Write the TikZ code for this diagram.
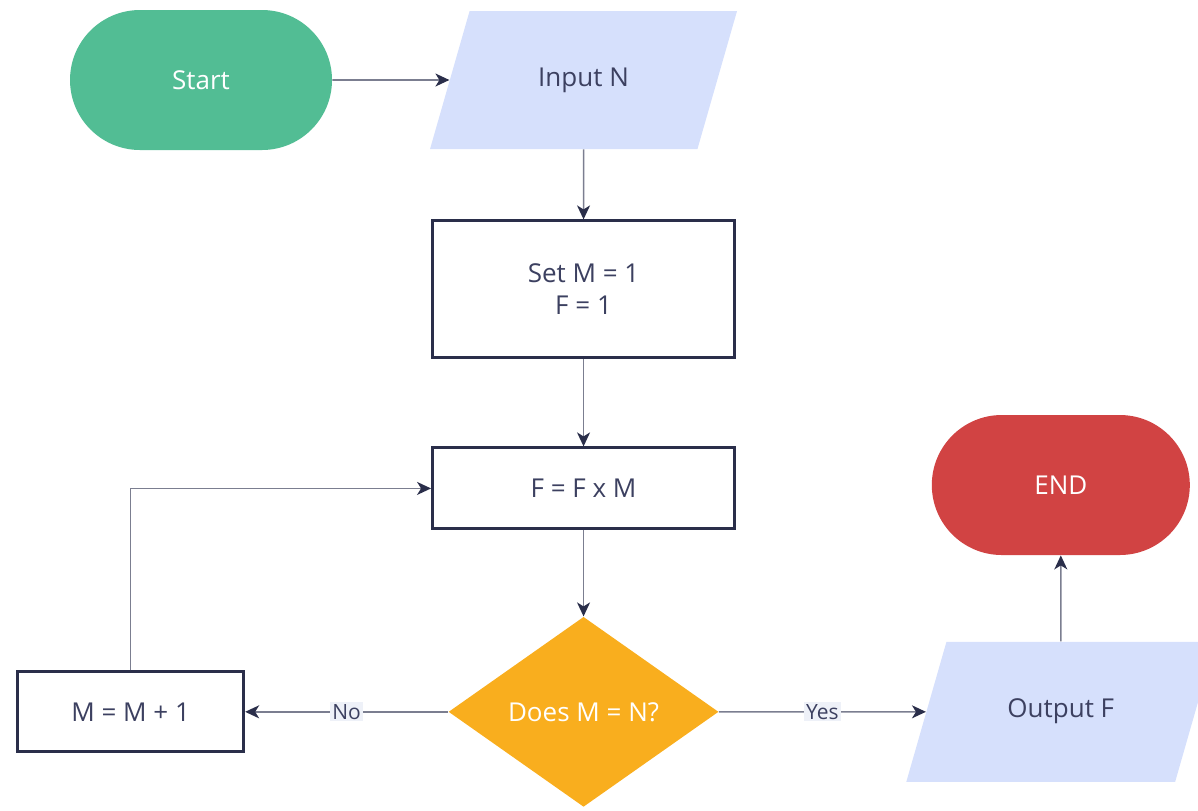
\documentclass[tikz,border=0pt]{standalone}
\usepackage{fontspec}
\setmainfont{Open Sans}
\usepackage{tikz}
\usetikzlibrary{shapes.geometric}
\usetikzlibrary{arrows.meta}
\usetikzlibrary{positioning}

\definecolor{startgreen}{HTML}{52BD94}
\definecolor{ioblue}{HTML}{D6E0FC}
\definecolor{endred}{HTML}{D14343}
\definecolor{askorange}{HTML}{F9AE1E}
\definecolor{navy}{HTML}{2A2E4A}
\definecolor{ink}{HTML}{3C4060}
\definecolor{wire}{HTML}{7B7E90}
\definecolor{tagbg}{HTML}{EEF1F8}

\begin{document}
\begin{tikzpicture}[x=0.5pt,y=-0.5pt,
				>={Stealth[length=7pt,width=6.5pt,inset=2pt,color=navy]},
				every node/.style={font=\fontsize{13}{16}\selectfont, text=ink},
				term/.style={rectangle,
				rounded corners=35pt,
				draw=none,
				minimum width=131pt,
				minimum height=70pt,
				text=white},
				io/.style={trapezium,
				trapezium left angle=74,
				trapezium right angle=106,
				trapezium stretches body=true,
				fill=ioblue,
				text height=9pt,
				text depth=3pt,
				inner ysep=28.5pt,
				minimum width=153.5pt},
				rect/.style={draw=navy,
				line width=1.5pt,
				rectangle,
				fill=white,
				minimum width=151pt,
				align=center},
				wire/.style={draw=wire, line width=0.8pt},
				tag/.style={midway, fill=tagbg, inner sep=1pt,
				font=\fontsize{10.5}{12}\selectfont}]
			\useasboundingbox (0,0) rectangle (1198,810);
			\node[term,fill=startgreen] (st1) at (201,80) {Start};
			\node[io,right=58.5pt of st1] (in1) {Input N};
			\node[rect,below=35pt of in1,minimum height=68.5pt] (set1) {Set M = 1\\F = 1};
			\node[rect,below=43.5pt of set1,minimum height=40.5pt] (mul1) {F = F x M};
			\node[diamond,below=43pt of mul1,fill=askorange,text=white,
				minimum width=135pt,minimum height=95pt,inner sep=0pt] (q1) {Does M = N?};
			\node[rect,left=101.5pt of q1,minimum width=113pt,minimum height=40pt] (inc1) {M = M + 1};
			\node[io,right=103.5pt of q1,minimum width=154.5pt,inner ysep=29pt] (out1) {Output F};
			\node[term,above=43pt of out1,fill=endred,minimum width=129pt] (end1) {END};
			\draw[wire,->] (st1)--(in1);
			\draw[wire,->] (in1)--(set1);
			\draw[wire,->] (set1)--(mul1);
			\draw[wire,->] (mul1)--(q1);
			\draw[wire,->] (q1)--(inc1)node[tag]{No};
			\draw[wire,->] (q1)--(out1)node[tag]{Yes};
			\draw[wire,->] (inc1.north) |- (mul1.west);
			\draw[wire,->] (out1)--(end1);
		\end{tikzpicture}
\end{document}
